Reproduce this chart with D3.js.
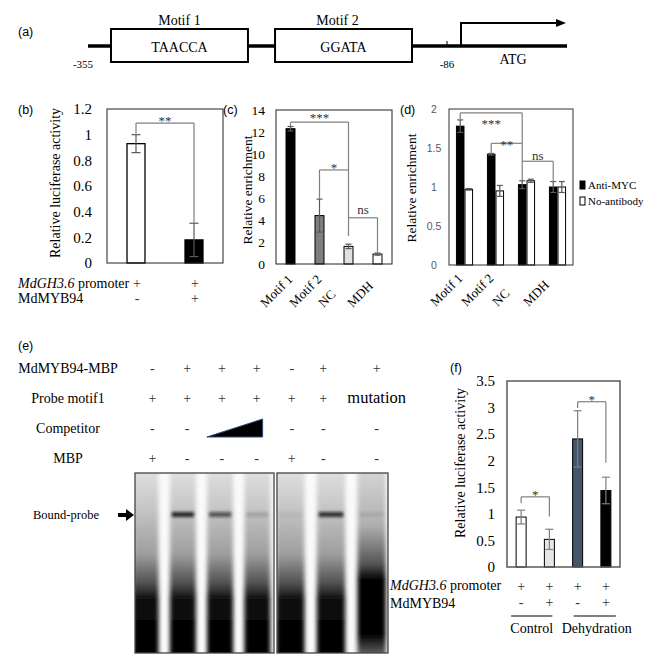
<!DOCTYPE html>
<html>
<head>
<meta charset="utf-8">
<script src="https://cdn.jsdelivr.net/npm/d3@7"></script>
<style>
  body { margin: 0; background: #fff; }
</style>
</head>
<body>
<div id="fig"></div>
<script>
// ---------- values ----------
// (a) promoter schematic
var aMotifNames = ["Motif 1", "Motif 2"];
var aMotifSeqs = ["TAACCA", "GGATA"];
var aPositions = [-355, -86];
var aStartCodon = "ATG";

// (b) luciferase, promoter alone vs + MdMYB94
var bTicks = [0, 0.2, 0.4, 0.6, 0.8, 1, 1.2];
var bSamples = ["b1", "b2"];
var bValues = [0.93, 0.18];
var bErrors = [0.07, 0.13];
var bPromoter = ["+", "+"];
var bMyb94 = ["-", "+"];
var bBrackets = [["**", 0, 1, 1.09, 1.01, 0.31]];

// (c) ChIP relative enrichment
var cCategories = ["Motif 1", "Motif 2", "NC", "MDH"];
var cTicks = [0, 2, 4, 6, 8, 10, 12, 14];
var cValues = [12.3, 4.4, 1.6, 0.9];
var cErrors = [0.2, 1.5, 0.2, 0.1];
var cBrackets = [["***", 0, 2, 12.9, 12.5, 2.55], ["*", 1, 2, 8.55, 5.9, null], ["ns", 2, 3, 4.2, null, 1.1]];

// (d) ChIP anti-MYC vs no antibody
var dCategories = ["Motif 1", "Motif 2", "NC", "MDH"];
var dSeries = ["Anti-MYC", "No-antibody"];
var dTicks = [0, 0.5, 1, 1.5, 2];
var dAntiMyc = [1.78, 1.42, 1.03, 1.0];
var dAntiMycErr = [0.08, 0.01, 0.05, 0.07];
var dNoAntibody = [0.97, 0.95, 1.08, 1.0];
var dNoAntibodyErr = [0.01, 0.07, 0.02, 0.07];
var dBrackets = [["***", 0, 2, 1.95, 1.87, 1.09], ["**", 1, 2, 1.56, 1.42, null], ["ns", 2, 3, 1.33, null, 1.06]];

// (e) EMSA
var eRowLabels = ["MdMYB94-MBP", "Probe motif1", "Competitor", "MBP"];
var eMyb94Mbp = ["-", "+", "+", "+", "-", "+", "+"];
var eProbe = ["+", "+", "+", "+", "+", "+", "mutation"];
var eCompetitor = ["-", "-", "ramp", "ramp", "-", "-", "-"];
var eMbp = ["+", "-", "-", "-", "+", "-", "-"];
var eBoundBand = [0, 0.85, 0.6, 0.15, 0.05, 0.8, 0.08];
var eBoundLabel = "Bound-probe";

// (f) luciferase under control / dehydration
var fTicks = [0, 0.5, 1, 1.5, 2, 2.5, 3, 3.5];
var fSamples = ["f1", "f2", "f3", "f4"];
var fValues = [0.94, 0.52, 2.41, 1.44];
var fErrors = [0.13, 0.19, 0.53, 0.25];
var fPromoter = ["+", "+", "+", "+"];
var fMyb94 = ["-", "+", "-", "+"];
var fGroups = ["Control", "Dehydration"];
var fBrackets = [["*", 0, 1, 1.32, 1.2, 0.95], ["*", 2, 3, 3.11, 2.99, 1.96]];

// ---------- drawing ----------
var SERIF = "'Liberation Serif','Times New Roman',serif";
var SANS = "'Liberation Sans',Arial,sans-serif";
var ERRC = "#595959";
var BRKC = "#808080";

var svg = d3.select("#fig").append("svg")
    .attr("width", 669)
    .attr("height", 666);
var defs = svg.append("defs");

function txt(g, s, x, y, size, anchor, font) {
    return g.append("text")
        .attr("x", x).attr("y", y)
        .attr("text-anchor", anchor || "start")
        .style("font-family", font || SERIF)
        .style("font-size", size + "px")
        .attr("fill", "#000")
        .text(s);
}

function promoterLabel(g, x, y) {
    var t = g.append("text").attr("x", x).attr("y", y)
        .style("font-family", SERIF).style("font-size", "14px");
    t.append("tspan").style("font-style", "italic").text("MdGH3.6");
    t.append("tspan").text(" promoter");
}

function leftAxis(g, scale, ticks, x, size) {
    var ax = g.append("g")
        .attr("transform", `translate(${x},0)`)
        .call(d3.axisLeft(scale).tickValues(ticks).tickSize(0).tickPadding(15).tickFormat(d => String(d)));
    ax.select(".domain").remove();
    ax.selectAll("text").style("font-family", SERIF).style("font-size", size + "px").attr("fill", "#000");
    return ax;
}

function frame(g, x0, x1, y0, y1, color, w) {
    g.append("rect")
        .attr("x", x0).attr("y", y0)
        .attr("width", x1 - x0).attr("height", y1 - y0)
        .attr("fill", "none").attr("stroke", color).attr("stroke-width", w);
}

function errorBars(g, xs, y, vals, errs, cap, color) {
    var data = vals.map((v, i) => ({ x: xs(i), lo: v - errs[i], hi: v + errs[i] }));
    g.selectAll(null).data(data).join("line")
        .attr("x1", d => d.x).attr("x2", d => d.x)
        .attr("y1", d => y(d.lo)).attr("y2", d => y(d.hi))
        .attr("stroke", color).attr("stroke-width", 1.2);
    ["lo", "hi"].forEach(function (k) {
        g.selectAll(null).data(data).join("line")
            .attr("x1", d => d.x - cap / 2).attr("x2", d => d.x + cap / 2)
            .attr("y1", d => y(d[k])).attr("y2", d => y(d[k]))
            .attr("stroke", color).attr("stroke-width", 1.2);
    });
}

function brackets(g, list, xs, y, dys) {
    list.forEach(function (b, i) {
        var xa = xs(b[1]), xb = xs(b[2]), yl = y(b[3]);
        g.append("line").attr("x1", xa).attr("x2", xb).attr("y1", yl).attr("y2", yl)
            .attr("stroke", BRKC).attr("stroke-width", 1.2);
        if (b[4] != null) g.append("line").attr("x1", xa).attr("x2", xa).attr("y1", yl).attr("y2", y(b[4]))
            .attr("stroke", BRKC).attr("stroke-width", 1.2);
        if (b[5] != null) g.append("line").attr("x1", xb).attr("x2", xb).attr("y1", yl).attr("y2", y(b[5]))
            .attr("stroke", BRKC).attr("stroke-width", 1.2);
        txt(g, b[0], (xa + xb) / 2, yl + dys[i], 13, "middle").attr("fill", "#333");
    });
}

// ===== (a) =====
var aG = svg.append("g");
txt(aG, "(a)", 18, 36, 12.5, "start", SANS);
var aPos = d3.scaleLinear().domain(aPositions).range([85, 447]);
var aBox = d3.scaleBand().domain(aMotifNames).range([111, 412]).paddingInner(0.165);
aG.append("line").attr("x1", aPos(-355) + 3).attr("x2", 567).attr("y1", 46).attr("y2", 46)
    .attr("stroke", "#000").attr("stroke-width", 3.5);
aG.selectAll("rect.motif").data(aMotifNames).join("rect")
    .attr("class", "motif")
    .attr("x", d => aBox(d)).attr("y", 29)
    .attr("width", aBox.bandwidth()).attr("height", 33)
    .attr("fill", "#fff").attr("stroke", "#000").attr("stroke-width", 2);
aMotifNames.forEach(function (m, i) {
    var cx = aBox(m) + aBox.bandwidth() / 2;
    txt(aG, m, cx - i * 6, 25, 14, "middle");
    txt(aG, aMotifSeqs[i], cx, 52, 14, "middle");
});
aPositions.forEach(p => txt(aG, String(p), aPos(p) - (p === -355 ? 2 : 0), 68, 11, "middle"));
aG.append("line").attr("x1", aPos(-86)).attr("x2", aPos(-86)).attr("y1", 41).attr("y2", 46)
    .attr("stroke", "#000").attr("stroke-width", 1);
var tss = aPos(-86) + 14;
aG.append("path").attr("d", `M${tss},46 V23 H557`).attr("fill", "none").attr("stroke", "#000").attr("stroke-width", 2);
aG.append("path").attr("d", `M556,19 L566,23 L556,27 Z`).attr("fill", "#000");
txt(aG, aStartCodon, 513, 64, 14, "middle");

// ===== (b) =====
var bG = svg.append("g");
txt(bG, "(b)", 18, 114, 12.5, "start", SANS);
var bX = d3.scaleBand().domain(bSamples).range([107, 223]).paddingInner(0.69).paddingOuter(0.345);
var bY = d3.scaleLinear().domain([0, 1.2]).range([263, 109]);
leftAxis(bG, bY, bTicks, 107, 15);
bG.selectAll("rect.bar").data(bValues).join("rect")
    .attr("x", (d, i) => bX(bSamples[i])).attr("y", d => bY(d))
    .attr("width", bX.bandwidth()).attr("height", d => bY(0) - bY(d))
    .attr("fill", (d, i) => i === 0 ? "#fff" : "#000")
    .attr("stroke", "#000").attr("stroke-width", 1.3);
var bCx = i => bX(bSamples[i]) + bX.bandwidth() / 2;
errorBars(bG, bCx, bY, bValues, bErrors, 9, ERRC);
brackets(bG, bBrackets, bCx, bY, [2]);
frame(bG, 107, 223, 109, 263, "#222", 1);
bG.append("text")
    .attr("transform", "translate(60,183) rotate(-90)")
    .attr("text-anchor", "middle")
    .style("font-family", SERIF).style("font-size", "14px")
    .text("Relative luciferase activity");
promoterLabel(bG, 18, 288);
txt(bG, "MdMYB94", 18, 303, 14);
bPromoter.forEach((s, i) => txt(bG, s, bCx(i) + 1, 288, 14, "middle").attr("fill", "#333"));
bMyb94.forEach((s, i) => txt(bG, s, bCx(i) + 1, 303, 14, "middle").attr("fill", "#333"));

// ===== (c) =====
var cG = svg.append("g");
txt(cG, "(c)", 223, 114, 12.5, "start", SANS);
var cX = d3.scaleBand().domain(cCategories).range([276, 392]).paddingInner(0.69).paddingOuter(0.345);
var cY = d3.scaleLinear().domain([0, 14]).range([264, 110]);
leftAxis(cG, cY, cTicks, 280, 13.5);
var cFill = d3.scaleOrdinal().domain(cCategories).range(["#000", "#7f7f7f", "#e0e0e0", "#fff"]);
cG.selectAll("rect.bar").data(cValues).join("rect")
    .attr("x", (d, i) => cX(cCategories[i])).attr("y", d => cY(d))
    .attr("width", cX.bandwidth()).attr("height", d => cY(0) - cY(d))
    .attr("fill", (d, i) => cFill(cCategories[i]))
    .attr("stroke", "#000").attr("stroke-width", 1);
var cCx = i => cX(cCategories[i]) + cX.bandwidth() / 2;
errorBars(cG, cCx, cY, cValues, cErrors, 6, ERRC);
brackets(cG, cBrackets, cCx, cY, [0, 2, -4]);
frame(cG, 276, 392, 110, 264, "#222", 1);
cG.append("text")
    .attr("transform", "translate(252,190) rotate(-90)")
    .attr("text-anchor", "middle")
    .style("font-family", SERIF).style("font-size", "13.5px")
    .text("Relative enrichment");
cCategories.forEach(function (c, i) {
    var x = cCx(i) - 25, y = 308;
    cG.append("text").attr("transform", `translate(${x},${y}) rotate(-45)`)
        .style("font-family", SERIF).style("font-size", "13px").text(c);
});

// ===== (d) =====
var dG = svg.append("g");
txt(dG, "(d)", 400, 114, 12.5, "start", SANS);
var dX = d3.scaleBand().domain(dCategories).range([449, 573]).paddingInner(0.48).paddingOuter(0.24);
var dS = d3.scaleBand().domain(dSeries).range([0, dX.bandwidth()]).paddingInner(0.12);
var dY = d3.scaleLinear().domain([0, 2]).range([265, 109]);
var dAx = leftAxis(dG, dY, dTicks, 449, 10.5);
dAx.selectAll("text").attr("text-anchor", "middle").style("font-family", SANS).attr("fill", "#595959");
var dFill = d3.scaleOrdinal().domain(dSeries).range(["#000", "#fff"]);
var dVals = [dAntiMyc, dNoAntibody];
var dErrs = [dAntiMycErr, dNoAntibodyErr];
dSeries.forEach(function (s, si) {
    var xs = i => dX(dCategories[i]) + dS(s) + dS.bandwidth() / 2;
    dG.selectAll(null).data(dVals[si]).join("rect")
        .attr("x", (d, i) => dX(dCategories[i]) + dS(s)).attr("y", d => dY(d))
        .attr("width", dS.bandwidth()).attr("height", d => dY(0) - dY(d))
        .attr("fill", dFill(s)).attr("stroke", "#000").attr("stroke-width", 1);
    errorBars(dG, xs, dY, dVals[si], dErrs[si], 6, ERRC);
});
var dCx = i => dX(dCategories[i]) + dS("Anti-MYC") + dS.bandwidth() / 2;
brackets(dG, dBrackets, dCx, dY, [15, 6, -1]);
frame(dG, 449, 573, 109, 265, "#333", 1);
dG.append("text")
    .attr("transform", "translate(416,188) rotate(-90)")
    .attr("text-anchor", "middle")
    .style("font-family", SERIF).style("font-size", "13.5px")
    .text("Relative enrichment");
dCategories.forEach(function (c, i) {
    var x = dX(c) + dX.bandwidth() / 2 - 29, y = 307;
    dG.append("text").attr("transform", `translate(${x},${y}) rotate(-45)`)
        .style("font-family", SERIF).style("font-size", "13px").text(c);
});
var dLeg = d3.scalePoint().domain(dSeries).range([185, 201]);
dSeries.forEach(function (s) {
    dG.append("rect").attr("x", 580).attr("y", dLeg(s) - 4).attr("width", 5).attr("height", 8)
        .attr("fill", dFill(s)).attr("stroke", "#000").attr("stroke-width", 1);
    txt(dG, s, 588, dLeg(s) + 4, 11);
});

// ===== (e) =====
var eG = svg.append("g");
txt(eG, "(e)", 18, 350, 12.5, "start", SANS);
var eRowY = d3.scalePoint().domain(eRowLabels).range([368, 458]);
eRowLabels.forEach(r => txt(eG, r, 68, eRowY(r) + 5, 14, "middle"));
var lanesL = [0, 1, 2, 3], lanesR = [4, 5, 6];
var gelL = d3.scaleBand().domain(lanesL).range([127, 276]).paddingInner(0.3).paddingOuter(0.15);
var gelR = d3.scaleBand().domain(lanesR).range([270, 392]).paddingInner(0.3).paddingOuter(0.15);
var laneX = i => i < 4 ? gelL(i) : gelR(i);
var laneW = i => i < 4 ? gelL.bandwidth() : gelR.bandwidth();
var colL = d3.scaleBand().domain(lanesL).range([135, 274]);
var colR = d3.scaleBand().domain([4, 5]).range([276, 339]);
var colX = function (i) {
    if (i < 4) return colL(i) + colL.bandwidth() / 2;
    if (i < 6) return colR(i) + colR.bandwidth() / 2;
    return laneX(i) + laneW(i) / 2 + 5;
};
var eRows = [eMyb94Mbp, eProbe, eCompetitor, eMbp];
eRows.forEach(function (row, ri) {
    var y = eRowY(eRowLabels[ri]) + 5;
    row.forEach(function (s, i) {
        if (s === "ramp") return;
        var t = txt(eG, s, colX(i), y, s === "mutation" ? 16.5 : 14, "middle").attr("fill", "#333");
        if (s === "mutation") t.attr("fill", "#000");
    });
});
// competitor gradient (increasing amount)
var ramp = eCompetitor.map((s, i) => s === "ramp" ? i : -1).filter(i => i >= 0);
var ry = eRowY("Competitor");
eG.append("path")
    .attr("d", `M${colX(ramp[0]) - 15},${ry + 9} L${colX(ramp[ramp.length - 1]) + 6},${ry + 9} L${colX(ramp[ramp.length - 1]) + 6},${ry - 9} Z`)
    .attr("fill", "#000").attr("stroke", "#2f4a7a").attr("stroke-width", 1);

// gel image
defs.append("filter").attr("id", "blur").attr("x", "-30%").attr("y", "-10%").attr("width", "160%").attr("height", "120%")
    .append("feGaussianBlur").attr("stdDeviation", 2.2);
defs.append("filter").attr("id", "blurB").attr("x", "-30%").attr("y", "-100%").attr("width", "160%").attr("height", "300%")
    .append("feGaussianBlur").attr("stdDeviation", 1.6);
function grad(id, stops) {
    var lg = defs.append("linearGradient").attr("id", id).attr("x1", 0).attr("y1", 0).attr("x2", 0).attr("y2", 1);
    stops.forEach(s => lg.append("stop").attr("offset", s[0]).attr("stop-color", s[1]));
}
grad("laneG", [[0, "#e2e2e2"], [0.2, "#c8c8c8"], [0.45, "#9e9e9e"], [0.6, "#505050"], [0.68, "#0a0a0a"], [1, "#000"]]);
grad("laneM", [[0, "#d8d8d8"], [0.3, "#b0b0b0"], [0.5, "#555"], [0.58, "#000"], [0.86, "#000"], [0.93, "#444"], [1, "#8a8a8a"]]);
var gels = [[135, 274, lanesL], [277, 388, lanesR]];
gels.forEach(function (gl, gi) {
    var x0 = gl[0], x1 = gl[1];
    defs.append("clipPath").attr("id", "gclip" + gi)
        .append("rect").attr("x", x0).attr("y", 473).attr("width", x1 - x0).attr("height", 180);
    var gg = eG.append("g").attr("clip-path", `url(#gclip${gi})`);
    gg.append("rect").attr("x", x0).attr("y", 473).attr("width", x1 - x0).attr("height", 180).attr("fill", "#fafafa");
    gg.selectAll(null).data(gl[2]).join("rect")
        .attr("x", d => laneX(d)).attr("y", 466)
        .attr("width", d => laneW(d)).attr("height", 196)
        .attr("fill", d => eProbe[d] === "mutation" ? "url(#laneM)" : "url(#laneG)")
        .attr("filter", "url(#blur)");
    gg.selectAll(null).data(gl[2]).join("rect")
        .attr("x", d => laneX(d) + 2).attr("y", 512)
        .attr("width", d => laneW(d) - 4).attr("height", 5)
        .attr("fill", "#111").attr("opacity", d => eBoundBand[d])
        .attr("filter", "url(#blurB)");
    frame(eG, x0, x1, 473, 653, "#444", 1.3);
});
txt(eG, eBoundLabel, 33, 519, 12.5);
eG.append("path").attr("d", "M118,513 H126 V509 L134,515 L126,521 V517 H118 Z").attr("fill", "#000");

// ===== (f) =====
var fG = svg.append("g");
txt(fG, "(f)", 450, 372, 12.5, "start", SANS);
var fX = d3.scaleBand().domain(fSamples).range([507, 620]).paddingInner(0.646).paddingOuter(0.323);
var fY = d3.scaleLinear().domain([0, 3.5]).range([567, 381]);
leftAxis(fG, fY, fTicks, 510, 15);
var fFill = d3.scaleOrdinal().domain(fSamples).range(["#fff", "#e7e6e6", "#44546a", "#000"]);
fG.selectAll("rect.bar").data(fValues).join("rect")
    .attr("x", (d, i) => fX(fSamples[i])).attr("y", d => fY(d))
    .attr("width", fX.bandwidth()).attr("height", d => fY(0) - fY(d))
    .attr("fill", (d, i) => fFill(fSamples[i]))
    .attr("stroke", "#000").attr("stroke-width", 1);
var fCx = i => fX(fSamples[i]) + fX.bandwidth() / 2;
errorBars(fG, fCx, fY, fValues, fErrors, 8, "#7f7f7f");
brackets(fG, fBrackets, fCx, fY, [2.5, 2.5]);
frame(fG, 507, 620, 381, 567, "#595959", 1.5);
fG.append("text")
    .attr("transform", "translate(465,463) rotate(-90)")
    .attr("text-anchor", "middle")
    .style("font-family", SERIF).style("font-size", "14px")
    .text("Relative luciferase activity");
promoterLabel(fG, 390, 590);
txt(fG, "MdMYB94", 390, 608, 14);
fPromoter.forEach((s, i) => txt(fG, s, fCx(i), 591, 14, "middle").attr("fill", "#333"));
fMyb94.forEach((s, i) => txt(fG, s, fCx(i), 607, 14, "middle").attr("fill", "#333"));
// group underline extents relative to the first/last bar of each group
var fLinePad = [[-5, -2], [1, 5]];
fGroups.forEach(function (gname, gi) {
    var a = fX(fSamples[gi * 2]) + fLinePad[gi][0];
    var b = fX(fSamples[gi * 2 + 1]) + fX.bandwidth() + fLinePad[gi][1];
    fG.append("line").attr("x1", a).attr("x2", b).attr("y1", 616).attr("y2", 616)
        .attr("stroke", "#000").attr("stroke-width", 1);
    txt(fG, gname, (a + b) / 2 + gi * 2, 633, 14, "middle");
});
</script>
</body>
</html>
